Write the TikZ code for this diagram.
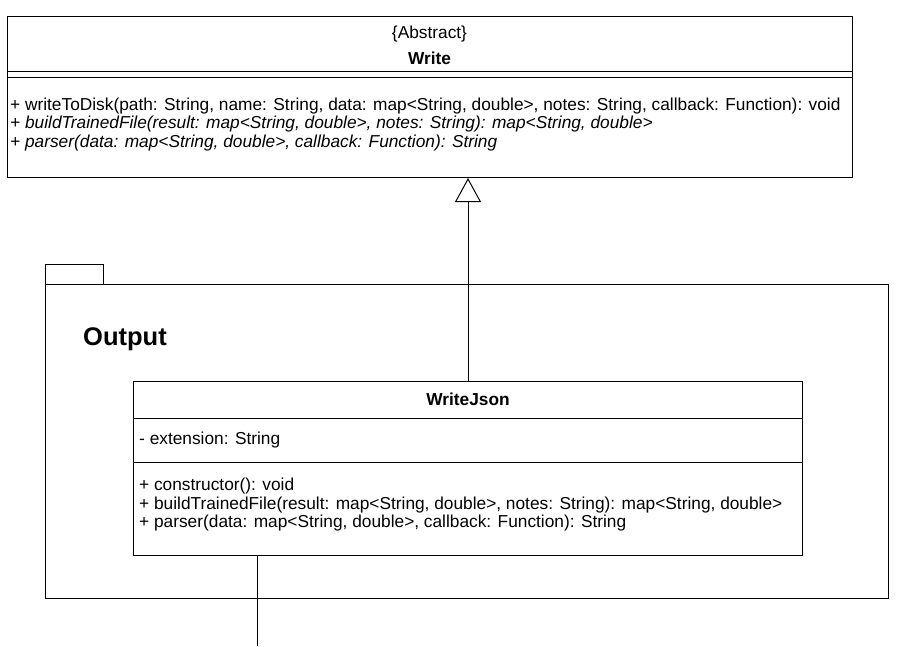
\documentclass[tikz,border=0pt]{standalone}
\usepackage{fontspec}
\setmainfont{Liberation Sans}
\usetikzlibrary{arrows.meta}

\begin{document}
\begin{tikzpicture}[x=1pt,y=-1pt,
  box/.style={draw=black,line width=1pt,inner sep=0pt,anchor=north west},
  member/.style={anchor=base west,inner sep=0pt,font=\fontsize{17.3}{20}\selectfont},
  title/.style={anchor=base,inner sep=0pt,font=\fontsize{17.3}{20}\selectfont\bfseries},
  inherit/.style={line width=1pt,-{Triangle[open,length=24pt,width=26pt]}}]
\useasboundingbox (0,0) rectangle (918,646);
% abstract class
\node[box,minimum width=845pt,minimum height=161pt] (write) at (7,16) {};
\draw[line width=1pt] ([yshift=-55pt]write.north west) -- ([yshift=-55pt]write.north east);
\draw[line width=1pt] ([yshift=-61pt]write.north west) -- ([yshift=-61pt]write.north east);
\node[member,anchor=base] (wabs) at (429.5,38) {\{Abstract\}};
\node[title] (wname) at (429.5,64) {Write};
\foreach \txt [count=\k] in {
  {+ writeToDisk(path: String, name: String, data: map<String, double>, notes: String, callback: Function): void},
  {\itshape + buildTrainedFile(result: map<String, double>, notes: String): map<String, double>},
  {\itshape + parser(data: map<String, double>, callback: Function): String}}
{
  \node[member] (wm\k) at (10,{91.5+18.5*\k}) {\txt};
}
% package
\node[box,minimum width=58pt,minimum height=20pt] (pkgtab) at (45,264) {};
\node[box,minimum width=843pt,minimum height=314pt] (pkg) at (45,284) {};
\node[anchor=base west,inner sep=0pt,font=\fontsize{25.5}{30}\selectfont\bfseries] (pkgname) at (83,345) {Output};
% concrete class
\node[box,fill=white,minimum width=669pt,minimum height=174pt] (wj) at (133,381) {};
\draw[line width=1pt] ([yshift=-37pt]wj.north west) -- ([yshift=-37pt]wj.north east);
\draw[line width=1pt] ([yshift=-81pt]wj.north west) -- ([yshift=-81pt]wj.north east);
\node[title] (wjname) at (wj.north |- 0,405.5) {WriteJson};
\node[member] (wjattr) at (139,444) {- extension: String};
\foreach \txt [count=\k] in {
  {+ constructor(): void},
  {+ buildTrainedFile(result: map<String, double>, notes: String): map<String, double>},
  {+ parser(data: map<String, double>, callback: Function): String}}
{
  \node[member] (wjm\k) at (139,{472+18.5*\k}) {\txt};
}
% connectors
\draw[inherit] (wj.north) -- (wj.north |- write.south);
\coordinate (sink) at (257,646);
\draw[line width=1pt] (sink |- wj.south) -- (sink);
\end{tikzpicture}
\end{document}
